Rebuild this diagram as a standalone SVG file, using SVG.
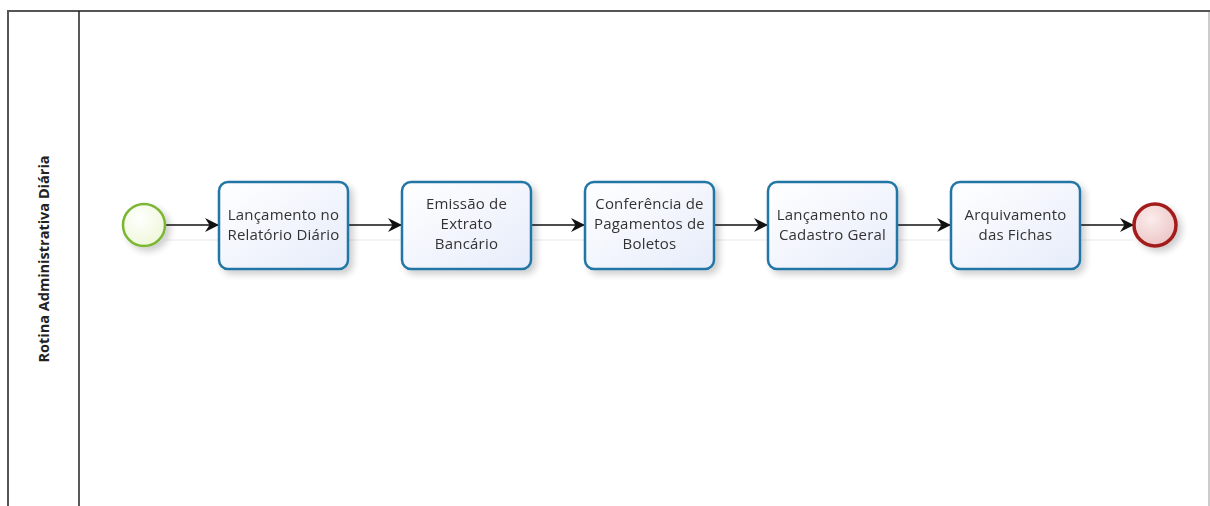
<svg xmlns="http://www.w3.org/2000/svg" width="1210" height="506" viewBox="0 0 1210 506">
  <defs>
    <linearGradient id="taskFill" x1="0" y1="0" x2="1" y2="1">
      <stop offset="0" stop-color="#ffffff"/>
      <stop offset="1" stop-color="#e6ecfa"/>
    </linearGradient>
    <radialGradient id="startFill" cx="0.4" cy="0.35" r="0.7">
      <stop offset="0" stop-color="#ffffff"/>
      <stop offset="1" stop-color="#eef7d8"/>
    </radialGradient>
    <radialGradient id="endFill" cx="0.4" cy="0.35" r="0.7">
      <stop offset="0" stop-color="#fbecec"/>
      <stop offset="1" stop-color="#edc4c4"/>
    </radialGradient>
    <filter id="shadow" x="-20%" y="-20%" width="150%" height="150%">
      <feGaussianBlur in="SourceAlpha" stdDeviation="3.5"/>
      <feOffset dx="4" dy="4" result="b"/>
      <feComponentTransfer><feFuncA type="linear" slope="0.2"/></feComponentTransfer>
      <feMerge><feMergeNode/><feMergeNode in="SourceGraphic"/></feMerge>
    </filter>
    <marker id="arrow" viewBox="0 0 14 14" refX="13" refY="7" markerWidth="14" markerHeight="14" markerUnits="userSpaceOnUse" orient="auto">
      <path d="M0,0 L14,7 L0,14 L4.5,7 Z" fill="#111"/>
    </marker>
    <style>
      .task { fill: url(#taskFill); stroke: #2476a6; stroke-width: 2.5; }
      .label { font-family: "Open Sans", "DejaVu Sans", sans-serif; font-size: 15px; letter-spacing: 0.2px; fill: #333; text-anchor: middle; }
      .flow { stroke: #111; stroke-width: 1.4; fill: none; marker-end: url(#arrow); }
    </style>
  </defs>

  <!-- pool and lane -->
  <g id="pool">
    <rect x="8" y="11" width="1204" height="520" fill="#fff" stroke="#555" stroke-width="2"/>
    <line x1="1209" y1="12" x2="1209" y2="506" stroke="#bbb" stroke-width="1.5"/>
    <line x1="79" y1="11" x2="79" y2="506" stroke="#222" stroke-width="1.5"/>
    <text transform="translate(49,259) rotate(-90)" font-family="'Open Sans', 'DejaVu Sans', sans-serif" font-size="14.5" font-weight="bold" fill="#222" text-anchor="middle">Rotina Administrativa Diária</text>
  </g>

  <!-- faint baseline under the flow -->
  <line x1="166" y1="240" x2="1133" y2="240" stroke="#f0f0f0" stroke-width="1.5"/>

  <!-- connectors -->
  <g id="connectors">
    <line class="flow" x1="166" y1="225" x2="218" y2="225"/>
    <line class="flow" x1="349" y1="225" x2="401" y2="225"/>
    <line class="flow" x1="532" y1="225" x2="584" y2="225"/>
    <line class="flow" x1="715" y1="225" x2="767" y2="225"/>
    <line class="flow" x1="898" y1="225" x2="950" y2="225"/>
    <line class="flow" x1="1081" y1="225" x2="1133" y2="225"/>
  </g>

  <g id="start" filter="url(#shadow)">
    <circle cx="144" cy="225" r="21" fill="url(#startFill)" stroke="#7ab631" stroke-width="2.5"/>
  </g>

  <g id="task1" filter="url(#shadow)">
    <rect class="task" x="219" y="182" width="129" height="87" rx="9"/>
    <text class="label" x="283.5" y="220">Lançamento no</text>
    <text class="label" x="283.5" y="240">Relatório Diário</text>
  </g>

  <g id="task2" filter="url(#shadow)">
    <rect class="task" x="402" y="182" width="129" height="87" rx="9"/>
    <text class="label" x="466.5" y="209">Emissão de</text>
    <text class="label" x="466.5" y="229">Extrato</text>
    <text class="label" x="466.5" y="249">Bancário</text>
  </g>

  <g id="task3" filter="url(#shadow)">
    <rect class="task" x="585" y="182" width="129" height="87" rx="9"/>
    <text class="label" x="649.5" y="209">Conferência de</text>
    <text class="label" x="649.5" y="229">Pagamentos de</text>
    <text class="label" x="649.5" y="249">Boletos</text>
  </g>

  <g id="task4" filter="url(#shadow)">
    <rect class="task" x="768" y="182" width="129" height="87" rx="9"/>
    <text class="label" x="832.5" y="220">Lançamento no</text>
    <text class="label" x="832.5" y="240">Cadastro Geral</text>
  </g>

  <g id="task5" filter="url(#shadow)">
    <rect class="task" x="951" y="182" width="129" height="87" rx="9"/>
    <text class="label" x="1015.5" y="220">Arquivamento</text>
    <text class="label" x="1015.5" y="240">das Fichas</text>
  </g>

  <g id="end" filter="url(#shadow)">
    <circle cx="1155" cy="225" r="21" fill="url(#endFill)" stroke="#a31d1d" stroke-width="3.5"/>
  </g>
</svg>
